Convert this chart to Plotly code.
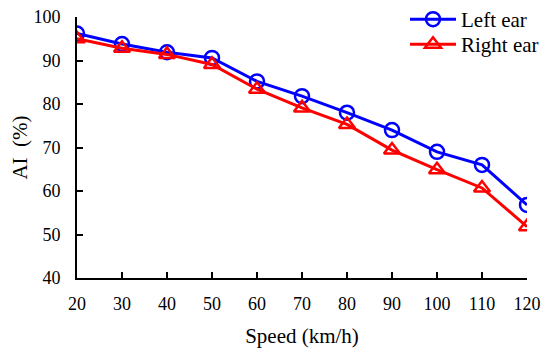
import plotly.graph_objects as go

speed = [20, 30, 40, 50, 60, 70, 80, 90, 100, 110, 120]
left_ear = [96.2, 93.8, 91.9, 90.6, 85.2, 81.8, 78.0, 74.0, 69.0, 66.0, 56.8]
right_ear = [95.0, 92.8, 91.4, 89.1, 83.4, 79.1, 75.3, 69.4, 64.9, 60.7, 51.8]
y_ticks = [40, 50, 60, 70, 80, 90, 100]
x_ticks = speed

FONT = "Liberation Serif"
W, H = 542, 343  # page body has an 8px margin

fig = go.Figure()
fig.add_trace(go.Scatter(
    x=speed, y=left_ear, name="Left ear", mode="lines+markers", legend="legend",
    line=dict(color="#0000FF", width=3),
    marker=dict(symbol="circle-open", size=14, color="#0000FF", line=dict(width=2.5, color="#0000FF")),
))
fig.add_trace(go.Scatter(
    x=speed, y=right_ear, name="Right ear", mode="lines+markers", legend="legend2",
    line=dict(color="#FF0000", width=3),
    marker=dict(symbol="triangle-up-open", size=14, color="#FF0000", line=dict(width=2.5, color="#FF0000")),
))

leg_common = dict(xref="container", yref="paper", xanchor="left", yanchor="top",
                  bgcolor="rgba(0,0,0,0)", font=dict(family=FONT, size=21, color="black"),
                  itemwidth=46)

fig.update_layout(
    width=W, height=H,
    margin=dict(l=69, r=23, t=9, b=73, autoexpand=False),
    paper_bgcolor="white", plot_bgcolor="white",
    font=dict(family=FONT, size=18, color="black"),
    showlegend=True,
    legend=dict(x=397 / W, y=1.069, **leg_common),
    legend2=dict(x=397 / W, y=0.973, **leg_common),
    xaxis=dict(range=[20, 120], tickvals=x_ticks, showline=True, linecolor="black", linewidth=2,
               ticks="inside", ticklen=6, tickwidth=2, tickcolor="black", showgrid=False,
               tickfont=dict(family=FONT, size=18, color="black"), ticklabeloverflow="allow",
               ticklabelstandoff=8,
               zeroline=False, title=dict(text="Speed (km/h)", standoff=16,
                                          font=dict(family=FONT, size=21, color="black"))),
    yaxis=dict(range=[40, 100], tickvals=y_ticks, showline=True, linecolor="black", linewidth=2,
               ticks="inside", ticklen=6, tickwidth=2, tickcolor="black", showgrid=False,
               tickfont=dict(family=FONT, size=18, color="black"), ticklabeloverflow="allow",
               ticklabelstandoff=11,
               zeroline=False, title=dict(text="AI\u00a0\u00a0(%)", standoff=0,
                                          font=dict(family=FONT, size=21, color="black"))),
)

fig.write_html("out.html")
